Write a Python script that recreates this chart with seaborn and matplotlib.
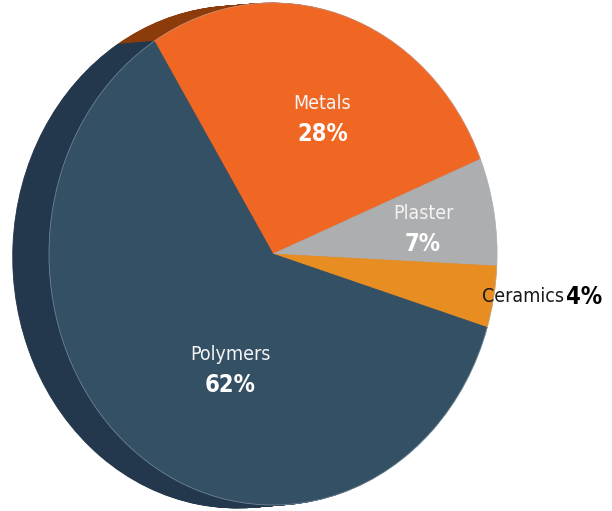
import numpy as np
import matplotlib
matplotlib.use("Agg")
import matplotlib.pyplot as plt
import seaborn as sns

sns.set_theme(style="white")
plt.rcParams["font.family"] = ["DejaVu Sans"]
plt.rcParams["font.stretch"] = "condensed"

# ── data ──────────────────────────────────────────────────────────────────────
materials = ["Metals", "Plaster", "Ceramics", "Polymers"]
shares = [28, 7, 4, 62]
face_colors = ["#F06623", "#ADAEB0", "#E88D22", "#345064"]
side_colors = ["#8C3B0B", "#6E6F71", "#9A5A12", "#23384C"]

fig = plt.figure(figsize=(6.12, 5.11), dpi=100)
ax = fig.add_axes([0, 0, 1, 1])

START = 122
# extrusion: stack of darker pies shifted toward the back-left
n_layers = 40
for k in range(n_layers):
    f = 1 - k / n_layers
    ax.pie(shares, colors=side_colors, startangle=START, counterclock=False,
           center=(-0.162 * f, -0.012 * f), radius=1,
           wedgeprops=dict(linewidth=0.6))
    for w, c in zip(ax.patches[-len(shares):], side_colors):
        w.set_edgecolor(c)

wedges, _ = ax.pie(shares, colors=face_colors, startangle=START, counterclock=False,
                   center=(0, 0), radius=1, wedgeprops=dict(linewidth=0.5))
for w, c in zip(wedges, face_colors):
    w.set_edgecolor(c)
# faint rim on the front face
ax.pie([1], radius=1, center=(0, 0), colors=["none"],
       wedgeprops=dict(fill=False, edgecolor="#a9b7c4", linewidth=0.6, alpha=0.5))

# ── labels ────────────────────────────────────────────────────────────────────
inside = {"Metals": (0.22, 0.60), "Plaster": (0.67, 0.16), "Polymers": (-0.19, -0.40)}
for name, pct in zip(materials, shares):
    if name in inside:
        x, y = inside[name]
        ax.text(x, y, name, ha="center", va="center", color="#f4f4f4",
                fontsize=14)
        ax.text(x, y - 0.122, f"{pct}%", ha="center", va="center",
                color="white", fontsize=17, fontweight="bold")
    else:
        ax.text(1.30, -0.17, name, ha="right", va="center", color="#1a1a1a",
                fontsize=14)
        ax.text(1.31, -0.17, f"{pct}%", ha="left", va="center",
                color="black", fontsize=17, fontweight="bold")

ax.set_aspect("auto")
ax.set_xlim(-273 / 224, (612 - 273) / 224)
ax.set_ylim(-(511 - 254) / 251, 254 / 251)
ax.axis("off")

fig.savefig("out.png", dpi=100)
